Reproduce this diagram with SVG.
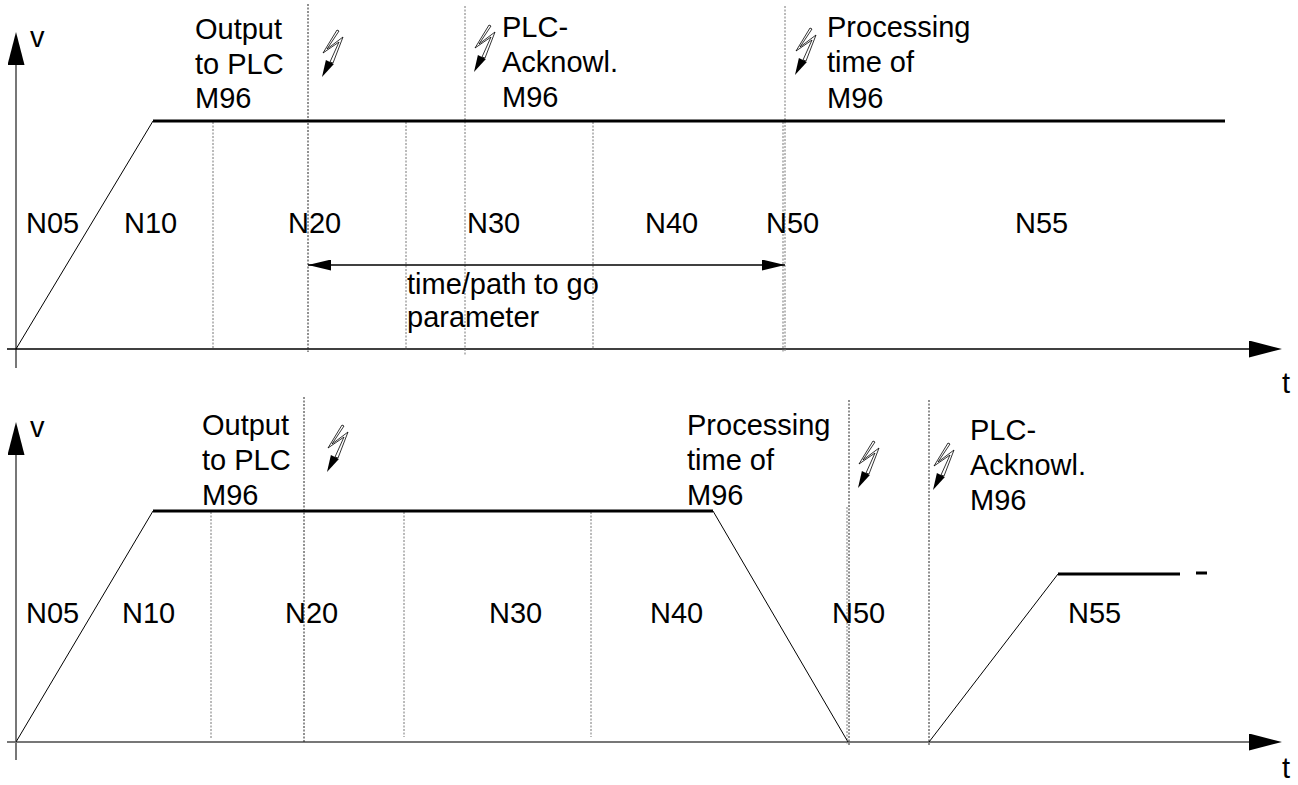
<svg xmlns="http://www.w3.org/2000/svg" xmlns:xlink="http://www.w3.org/1999/xlink" width="1298" height="785" viewBox="0 0 1298 785">
<style>
text{font-family:"Liberation Sans",Arial,sans-serif;font-size:29px;fill:#000}
.axis{stroke:#000;stroke-width:1.5;fill:none}
.yaxis{stroke:#777;stroke-width:2;fill:none}
.flat{stroke:#000;stroke-width:3;fill:none}
.ramp{stroke:#000;stroke-width:1;fill:none}
.dk{stroke:#222;stroke-width:1;stroke-dasharray:2 1.5;fill:none}
.lt{stroke:#777;stroke-width:1;stroke-dasharray:2 1.5;fill:none}
.dim{stroke:#000;stroke-width:1.5;fill:none}
</style>
<defs>
<marker id="axArrow" markerUnits="userSpaceOnUse" markerWidth="33" markerHeight="17" refX="0" refY="8.5" orient="auto">
<path d="M0,0 L33,8.5 L0,17 z" fill="#000"/>
</marker>
<marker id="dimArrow" markerUnits="userSpaceOnUse" markerWidth="23" markerHeight="11" refX="23" refY="5.5" orient="auto-start-reverse">
<path d="M0,0 L23,5.5 L0,11 z" fill="#000"/>
</marker>
<g id="bolt">
<path d="M15,-47 L1,-24 L17,-35 L8,-15 L11,-14 L21,-40 L5,-28 L17,-46 z" stroke="#000" stroke-width="0.8" fill="#fff" stroke-linejoin="miter"/>
<path d="M0,0 L3.9,-17.1 L11.9,-12.9 z" fill="#000"/>
</g>
</defs>

<g id="top-chart">
<g id="top-axes">
<line class="yaxis" x1="16" y1="368" x2="16" y2="65" marker-end="url(#axArrow)"/>
<line class="axis" x1="7" y1="349" x2="1249" y2="349" marker-end="url(#axArrow)"/>
<text x="30" y="47">v</text>
<text x="1282" y="393">t</text>
</g>
<g id="top-grid">
<line class="lt" x1="213" y1="122" x2="213" y2="349"/>
<line class="dk" x1="308" y1="4" x2="308" y2="352"/>
<line class="lt" x1="406" y1="122" x2="406" y2="350"/>
<line class="lt" x1="465" y1="6" x2="465" y2="355"/>
<line class="lt" x1="593" y1="122" x2="593" y2="350"/>
<line class="lt" x1="785" y1="6" x2="785" y2="352"/>
<line class="lt" x1="783" y1="122" x2="783" y2="352"/>
</g>
<g id="top-profile">
<polyline class="ramp" points="16,349 153,121"/>
<line class="flat" x1="153" y1="121" x2="1225" y2="121"/>
</g>
<g id="top-dimension">
<line class="dim" x1="308" y1="265" x2="785" y2="265" marker-start="url(#dimArrow)" marker-end="url(#dimArrow)"/>
<text x="407" y="294">time/path to go</text>
<text x="407" y="327">parameter</text>
</g>
<g id="top-events">
<use xlink:href="#bolt" x="322" y="77"/>
<use xlink:href="#bolt" x="474" y="72"/>
<use xlink:href="#bolt" x="795" y="75"/>
<text x="195" y="39">Output</text>
<text x="195" y="73.5">to PLC</text>
<text x="195" y="108">M96</text>
<text x="502" y="37">PLC-</text>
<text x="502" y="72">Acknowl.</text>
<text x="502" y="107">M96</text>
<text x="827" y="37">Processing</text>
<text x="827" y="72">time of</text>
<text x="827" y="108">M96</text>
</g>
<g id="top-blocks">
<text x="26" y="233">N05</text>
<text x="124" y="233">N10</text>
<text x="288" y="233">N20</text>
<text x="467" y="233">N30</text>
<text x="645" y="233">N40</text>
<text x="766" y="233">N50</text>
<text x="1015" y="233">N55</text>
</g>
</g>

<g id="bottom-chart">
<g id="bottom-axes">
<line class="yaxis" x1="16" y1="760" x2="16" y2="455" marker-end="url(#axArrow)"/>
<line class="yaxis" x1="7" y1="742" x2="1249" y2="742" marker-end="url(#axArrow)"/>
<text x="30" y="437">v</text>
<text x="1282" y="778">t</text>
</g>
<g id="bottom-grid">
<line class="lt" x1="211" y1="512" x2="211" y2="738"/>
<line class="dk" x1="304" y1="397" x2="304" y2="742"/>
<line class="lt" x1="404" y1="512" x2="404" y2="737"/>
<line class="lt" x1="591" y1="512" x2="591" y2="737"/>
<line class="dk" x1="849" y1="400" x2="849" y2="745"/>
<line class="lt" x1="847" y1="507" x2="847" y2="745"/>
<line class="dk" x1="929" y1="400" x2="929" y2="745"/>
</g>
<g id="bottom-profile">
<polyline class="ramp" points="16,742 153,511"/>
<line class="flat" x1="153" y1="511" x2="713" y2="511"/>
<polyline class="ramp" points="713,511 848,742"/>
<polyline class="ramp" points="929,742 1058,574"/>
<line class="flat" x1="1058" y1="574" x2="1180" y2="574"/>
<line class="flat" x1="1196" y1="573" x2="1207" y2="573"/>
</g>
<g id="bottom-events">
<use xlink:href="#bolt" x="327" y="472"/>
<use xlink:href="#bolt" x="858" y="488"/>
<use xlink:href="#bolt" x="933" y="490"/>
<text x="202" y="435">Output</text>
<text x="202" y="470">to PLC</text>
<text x="202" y="505">M96</text>
<text x="687" y="435">Processing</text>
<text x="687" y="470">time of</text>
<text x="687" y="505">M96</text>
<text x="970" y="440">PLC-</text>
<text x="970" y="475">Acknowl.</text>
<text x="970" y="510">M96</text>
</g>
<g id="bottom-blocks">
<text x="26" y="623">N05</text>
<text x="122" y="623">N10</text>
<text x="285" y="623">N20</text>
<text x="489" y="623">N30</text>
<text x="650" y="623">N40</text>
<text x="832" y="623">N50</text>
<text x="1068" y="623">N55</text>
</g>
</g>
</svg>
